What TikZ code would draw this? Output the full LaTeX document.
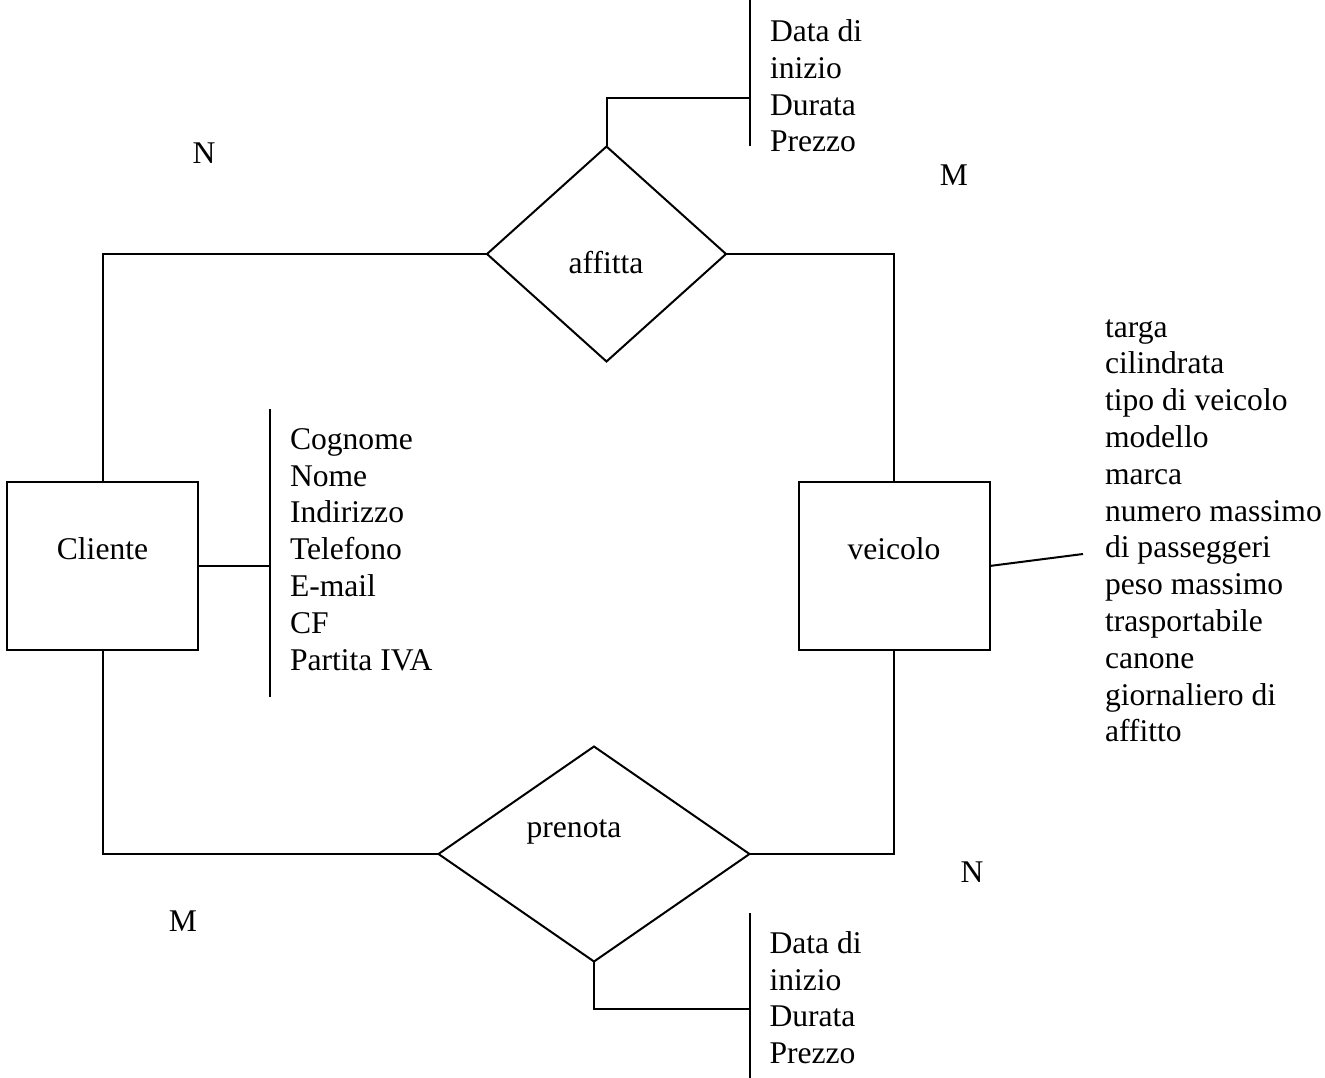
\documentclass[tikz,border=0pt]{standalone}
\usepackage{fontspec}
\setmainfont{Liberation Serif}
\usetikzlibrary{shapes.geometric}
\begin{document}
\begin{tikzpicture}[x=1pt,y=-1pt,line width=2pt,
  every node/.style={font=\fontsize{31.6}{36.7}\selectfont,inner sep=0pt,outer sep=0pt},
  entity/.style={draw,rectangle,minimum width=191pt,minimum height=168pt},
  rel/.style={draw,diamond,minimum width=#1,minimum height=215pt},
  lbl/.style={anchor=base},
  attr/.style={anchor=base west}]
\useasboundingbox (0,0) rectangle (1325,1078);

% entities
\node[entity] (cliente) at (102.5,566) {};
\node[lbl] (clienteT) at (102.5,559.5) {Cliente};
\node[entity] (veicolo) at (894,566) {};
\node[lbl] (veicoloT) at (894,559.5) {veicolo};

% relationships
\node[rel=239pt] (affitta) at (606.5,254) {};
\node[lbl] (affittaT) at (606,273) {affitta};
\node[rel=311pt] (prenota) at (594,854) {};
\node[lbl] (prenotaT) at (574,837) {prenota};

% cardinalities
\node[lbl] (n1) at (204,164) {N};
\node[lbl] (m1) at (954,186) {M};
\node[lbl] (m2) at (183,931) {M};
\node[lbl] (n2) at (972,882) {N};

% main connectors
\draw (cliente.north) |- (affitta.west);
\draw (affitta.east) -| (veicolo.north);
\draw (cliente.south) |- (prenota.west);
\draw (prenota.east) -| (veicolo.south);

% affitta attributes
\coordinate (aJ) at (750,98);
\coordinate (aT) at (750,0);
\coordinate (aB) at (750,146);
\draw (affitta.north) |- (aJ);
\draw (aT) -- (aB);
\foreach \t [count=\i from 0] in {Data di,inizio,Durata,Prezzo}
  \node[attr] (aa\i) at (770,{41.7+36.7*\i}) {\t};

% prenota attributes
\coordinate (pJ) at (750,1009);
\coordinate (pT) at (750,913);
\coordinate (pB) at (750,1078);
\draw (prenota.south) |- (pJ);
\draw (pT) -- (pB);
\foreach \t [count=\i from 0] in {Data di,inizio,Durata,Prezzo}
  \node[attr] (pa\i) at (769.5,{953.3+36.7*\i}) {\t};

% cliente attributes
\coordinate (cJ) at (270,566);
\coordinate (cT) at (270,409);
\coordinate (cB) at (270,697);
\draw (cliente.east) -- (cJ);
\draw (cT) -- (cB);
\foreach \t [count=\i from 0] in {Cognome,Nome,Indirizzo,Telefono,E-mail,CF,Partita IVA}
  \node[attr] (ca\i) at (290,{449.3+36.8*\i}) {\t};

% veicolo attributes
\coordinate (vJ) at (1083,554);
\draw (veicolo.east) -- (vJ);
\foreach \t [count=\i from 0] in {targa,cilindrata,tipo di veicolo,modello,marca,numero massimo,di passeggeri,peso massimo,trasportabile,canone,giornaliero di,affitto}
  \node[attr] (va\i) at (1105,{337+36.8*\i}) {\t};
\end{tikzpicture}
\end{document}
